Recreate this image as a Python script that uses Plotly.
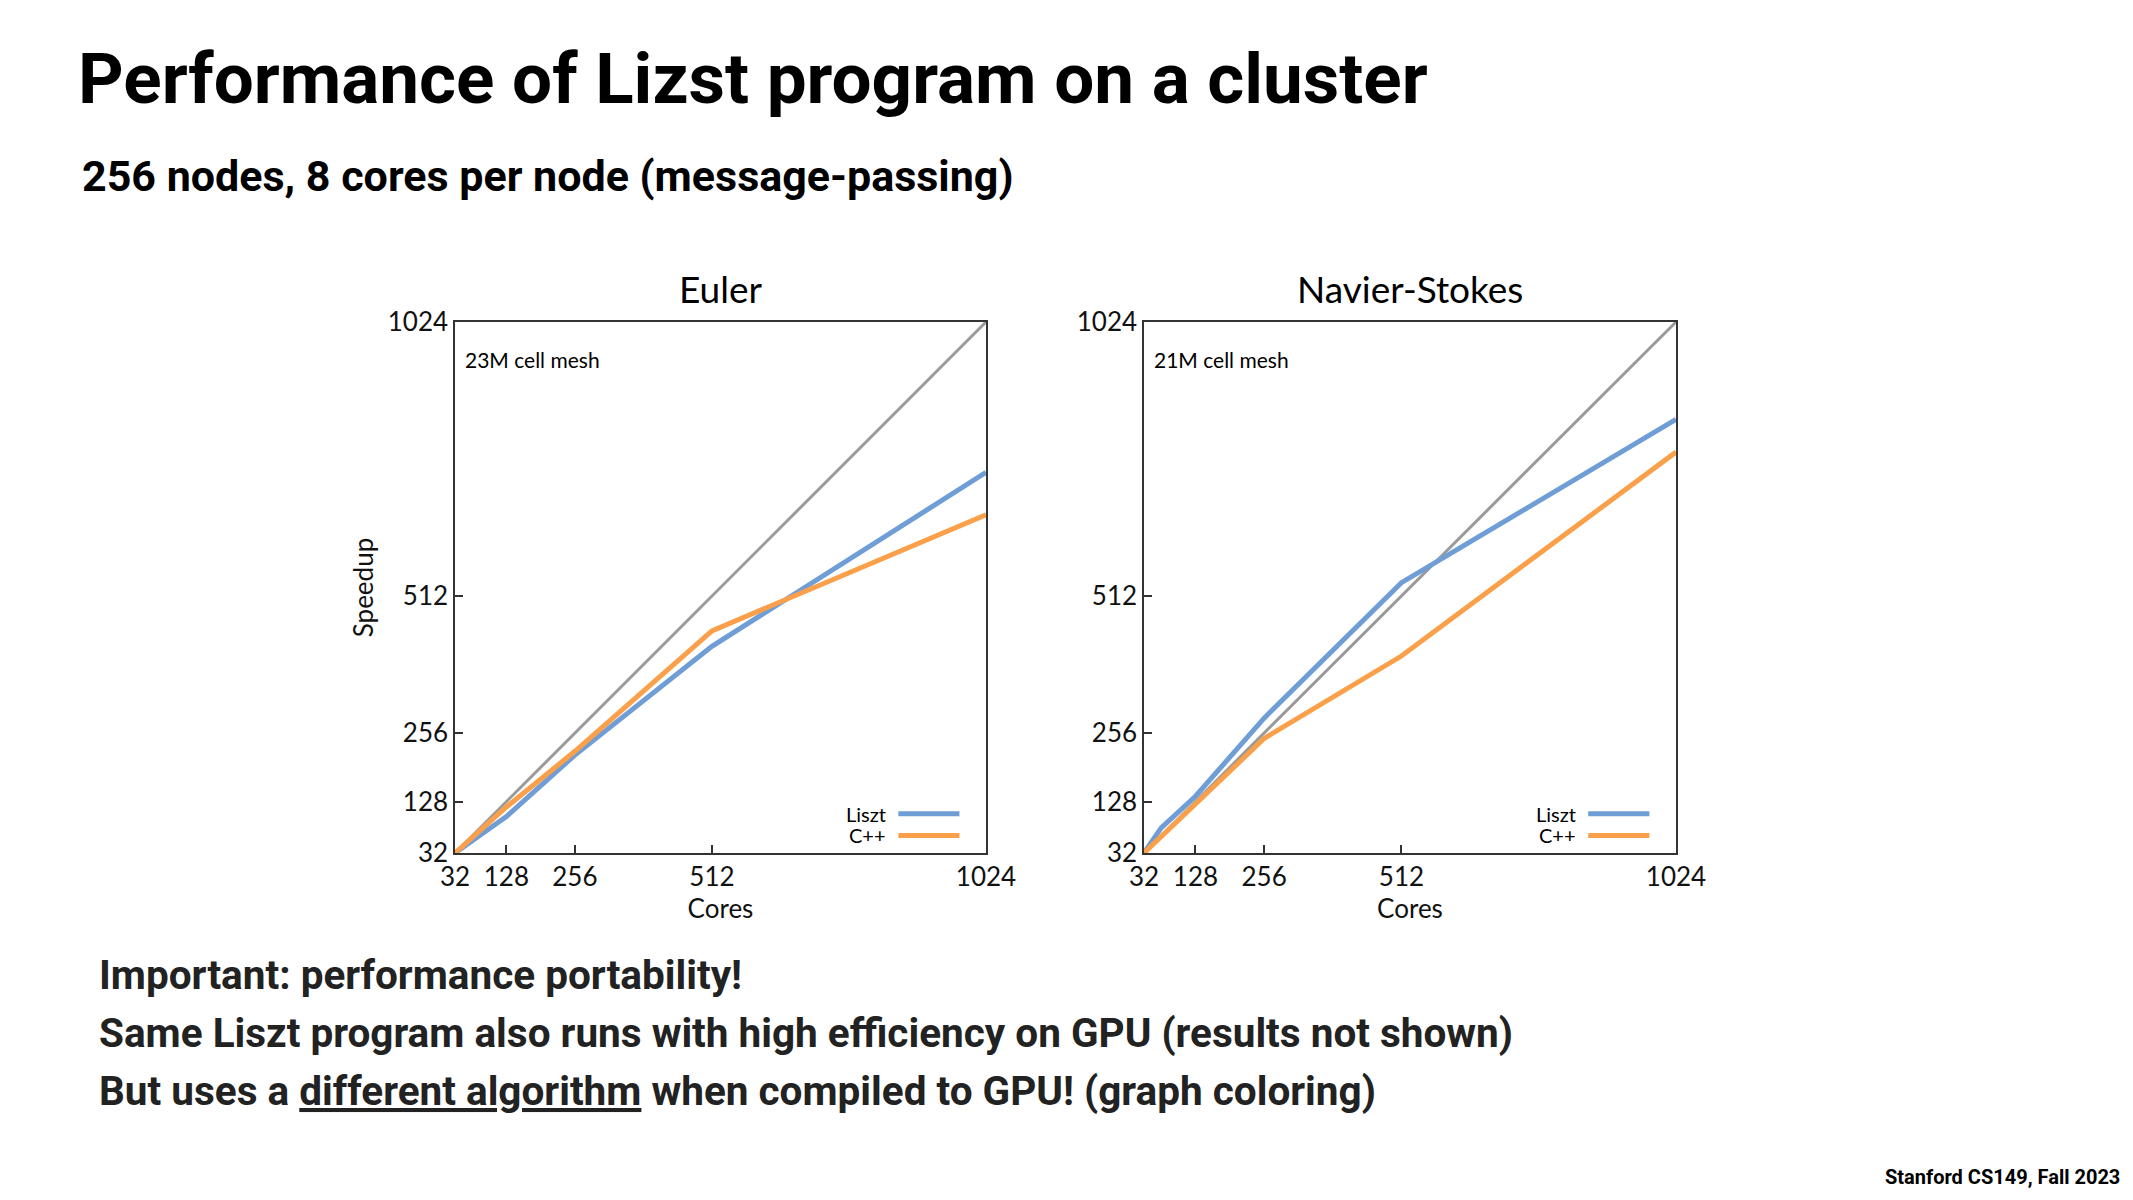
import plotly.graph_objects as go

# ---------------- data ----------------
euler_cores = [32, 128, 256, 512, 1024]
euler_liszt = [32, 100, 215, 418, 743]
euler_cpp = [32, 118, 222, 447, 664]

ns_liszt_cores = [32, 64, 128, 256, 512, 1024]
ns_liszt = [32, 79, 138, 284, 537, 842]
ns_cpp_cores = [32, 128, 256, 512, 1024]
ns_cpp = [32, 125, 246, 400, 781]

ideal = [32, 1024]
tick_vals = [32, 128, 256, 512, 1024]
tick_text = ["32", "128", "256", "512", "1024"]

BLUE = "#6f9ed6"
ORANGE = "#fba04a"
GRAY = "#9a9a9a"
W, H = 2133, 1200
OFF = 8  # page body margin compensation
CHART_FONT = "Lato, 'Noto Sans', sans-serif"
SLIDE_FONT = "Roboto, 'Liberation Sans Narrow', 'DejaVu Sans Condensed', sans-serif"

fig = go.Figure()

def add_panel(xref, yref, xs_l, ys_l, xs_c, ys_c):
    fig.add_trace(go.Scatter(x=ideal, y=ideal, mode="lines", line=dict(color=GRAY, width=3),
                             xaxis=xref, yaxis=yref, showlegend=False, hoverinfo="skip"))
    fig.add_trace(go.Scatter(x=xs_l, y=ys_l, mode="lines", name="Liszt", line=dict(color=BLUE, width=5),
                             xaxis=xref, yaxis=yref, showlegend=False))
    fig.add_trace(go.Scatter(x=xs_c, y=ys_c, mode="lines", name="C++", line=dict(color=ORANGE, width=5),
                             xaxis=xref, yaxis=yref, showlegend=False))

add_panel("x", "y", euler_cores, euler_liszt, euler_cores, euler_cpp)
add_panel("x2", "y2", ns_liszt_cores, ns_liszt, ns_cpp_cores, ns_cpp)

def px(x):
    return (x - OFF) / W

def py(y):
    return 1 - (y - OFF) / H

axis_common = dict(range=[32, 1024], tickvals=tick_vals, ticktext=tick_text, ticks="inside",
                   ticklen=8, tickwidth=1.5, tickcolor="#333", showgrid=False, zeroline=False,
                   showline=True, linecolor="#333", linewidth=1.5, mirror=True, automargin=False,
                   tickfont=dict(family=CHART_FONT, size=26, color="#111"))

xdom1 = [px(455), px(986)]
xdom2 = [px(1144), px(1676)]
ydom = [py(853), py(322)]
lab_font = dict(family=CHART_FONT, size=26, color="#111")

fig.update_layout(
    width=W, height=H, margin=dict(l=0, r=0, t=0, b=0, autoexpand=False),
    paper_bgcolor="white", plot_bgcolor="white",
    xaxis=dict(domain=xdom1, anchor="y", title=dict(text="Cores", font=lab_font, standoff=4), **axis_common),
    yaxis=dict(domain=ydom, anchor="x", title=dict(text="Speedup", font=lab_font, standoff=7), **axis_common),
    xaxis2=dict(domain=xdom2, anchor="y2", title=dict(text="Cores", font=lab_font, standoff=4), **axis_common),
    yaxis2=dict(domain=ydom, anchor="x2", **axis_common),
)

ann = []
# slide text
ann.append(dict(text="<b>Performance of Lizst program on a cluster</b>", x=px(76), y=py(78), xanchor="left", yanchor="middle",
                font=dict(family=SLIDE_FONT, size=71, color="#000")))
ann.append(dict(text="<b>256 nodes, 8 cores per node (message-passing)</b>", x=px(80), y=py(176), xanchor="left", yanchor="middle",
                font=dict(family=SLIDE_FONT, size=43, color="#000")))
bottom_lines = [
    "<b>Important: performance portability!</b>",
    "<b>Same Liszt program also runs with high efficiency on GPU (results not shown)</b>",
    "<b>But uses a <u>different algorithm</u> when compiled to GPU! (graph coloring)</b>",
]
for i, t in enumerate(bottom_lines):
    ann.append(dict(text=t, x=px(97), y=py(975 + 58 * i), xanchor="left", yanchor="middle",
                    font=dict(family=SLIDE_FONT, size=40.5, color="#222")))
ann.append(dict(text="<b>Stanford CS149, Fall 2023</b>", x=px(2122), y=py(1177), xanchor="right", yanchor="middle",
                font=dict(family=SLIDE_FONT, size=20, color="#000")))

# panel titles and notes
for xr, title, note in [("x", "Euler", "23M cell mesh"), ("x2", "Navier-Stokes", "21M cell mesh")]:
    yr = "y" if xr == "x" else "y2"
    ann.append(dict(text=title, xref=f"{xr} domain", yref="paper", x=0.5, y=py(289), xanchor="center", yanchor="middle",
                    font=dict(family=CHART_FONT, size=37, color="#000")))
    ann.append(dict(text=note, xref=f"{xr} domain", yref=f"{yr} domain", x=0.015, y=0.93, xanchor="left", yanchor="middle",
                    font=dict(family=CHART_FONT, size=21, color="#000")))
    # legend
    for j, (lbl, col) in enumerate([("Liszt", BLUE), ("C++", ORANGE)]):
        ly = 0.074 - j * 0.041
        ann.append(dict(text=lbl, xref=f"{xr} domain", yref=f"{yr} domain", x=0.815, y=ly, xanchor="right", yanchor="middle",
                        font=dict(family=CHART_FONT, size=20, color="#000")))
        fig.add_shape(type="line", xref=f"{xr} domain", yref=f"{yr} domain", x0=0.835, x1=0.95, y0=ly, y1=ly,
                      line=dict(color=col, width=5))

for a in ann:
    a.setdefault("xref", "paper")
    a.setdefault("yref", "paper")
    a["showarrow"] = False
fig.update_layout(annotations=ann)

fig.write_html("out.html")
